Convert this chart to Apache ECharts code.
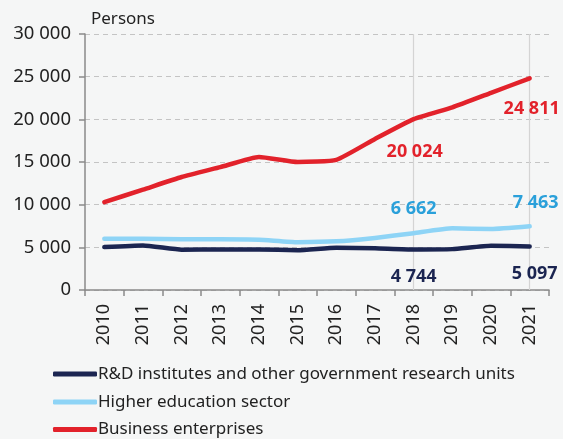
<!DOCTYPE html>
<html><head><meta charset="utf-8">
<script src="https://cdn.jsdelivr.net/npm/echarts@6/dist/echarts.min.js"></script>
<style>html,body{margin:0;padding:0;background:#f5f6f6}#c{width:563px;height:439px}</style>
</head><body><div id="c"></div>
<script>
const years = ['2010','2011','2012','2013','2014','2015','2016','2017','2018','2019','2020','2021'];
const rdInstitutes = [5025, 5220, 4720, 4760, 4760, 4670, 4950, 4880, 4744, 4790, 5190, 5097];
const higherEducation = [6010, 6000, 5950, 5950, 5900, 5610, 5700, 6100, 6662, 7230, 7140, 7463];
const business = [10300, 11760, 13240, 14400, 15590, 15000, 15250, 17700, 20024, 21400, 23100, 24811];
const yTicks = [0, 5000, 10000, 15000, 20000, 25000, 30000];
const labelledYears = ['2018', '2021'];
const seriesNames = ['R&D institutes and other government research units', 'Higher education sector', 'Business enterprises'];

const FONT = 'Noto Sans';
const fmt = v => String(v).replace(/\B(?=(\d{3})+(?!\d))/g, ' ');
const colors = ['#1b2551', '#8ed4f6', '#e2222b'];
const labelColors = ['#1b2551', '#2aa0da', '#e2222b'];
const offsets = [
  {'2018': [0, 27], '2021': [5, 27]},
  {'2018': [0, -24], '2021': [6, -23]},
  {'2018': [1, 33], '2021': [2, 31]}
];
function mk(values, i) {
  return values.map((v, k) => {
    const y = years[k];
    if (labelledYears.includes(y)) {
      return {value: v, label: {show: true, position: 'inside', offset: offsets[i][y],
        formatter: p => fmt(p.value), color: labelColors[i], fontFamily: FONT, fontWeight: 'bold', fontSize: 18,
        textBorderWidth: 0}};
    }
    return v;
  });
}
const all = [rdInstitutes, higherEducation, business];
const series = all.map((vals, i) => ({
  name: seriesNames[i], type: 'line', data: mk(vals, i), symbol: 'circle', symbolSize: 0, showSymbol: true,
  smooth: 0.15,
  lineStyle: {width: 4.5, color: colors[i], cap: 'round', join: 'round'}, itemStyle: {color: colors[i]},
  z: 3 + i
}));
series.push({
  name: 'guides', type: 'line', data: [], z: 1, silent: true,
  markLine: {
    silent: true, symbol: 'none', label: {show: false}, z: 1,
    lineStyle: {type: 'solid', color: '#d4d4d4', width: 1.2},
    data: labelledYears.map(y => ({xAxis: y}))
  }
});

const legendTops = [360, 388, 415.5];
const legends = seriesNames.map((n, i) => ({
  orient: 'horizontal', left: 48, top: legendTops[i], itemWidth: 44, itemHeight: 5,
  icon: 'roundRect', data: [n], selectedMode: false,
  textStyle: {color: '#222', fontFamily: FONT, fontSize: 17, lineHeight: 18, padding: [0, 0, 0, -4]}
}));

const chart = echarts.init(document.getElementById('c'));
chart.setOption({
  backgroundColor: '#f5f6f6',
  animation: false,
  grid: {left: 85, right: 14, top: 34, bottom: 149},
  xAxis: {
    type: 'category', data: years, boundaryGap: true,
    axisLine: {lineStyle: {color: '#8a8a8a', width: 1.5}},
    axisTick: {show: true, length: 6, lineStyle: {color: '#8a8a8a', width: 1.5}},
    axisLabel: {rotate: 90, color: '#222', fontFamily: FONT, fontSize: 18, margin: 14}
  },
  yAxis: {
    type: 'value', min: yTicks[0], max: yTicks[yTicks.length - 1], interval: 5000,
    name: 'Persons', nameLocation: 'end', nameGap: 6,
    nameTextStyle: {color: '#222', fontFamily: FONT, fontSize: 17, align: 'left', padding: [0, 0, 0, 6]},
    axisLine: {show: true, lineStyle: {color: '#8a8a8a', width: 1.5}},
    axisTick: {show: true, length: 6, lineStyle: {color: '#8a8a8a', width: 1.5}},
    axisLabel: {color: '#222', fontFamily: FONT, fontSize: 18.5, margin: 14, formatter: v => fmt(v)},
    splitLine: {show: true, lineStyle: {type: [5, 4], color: '#c4c4c4', width: 1.2}}
  },
  legend: legends,
  series: series
});
</script></body></html>
